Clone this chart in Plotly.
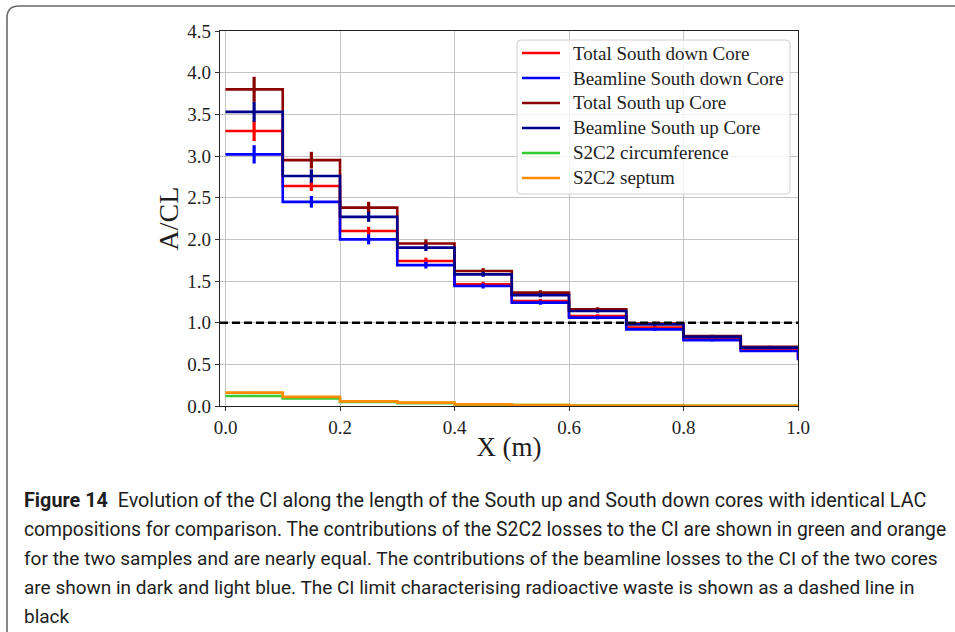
import plotly.graph_objects as go

# Bin edges along the core (m); the last edge carries the closing value of each step line
edges = [0.0, 0.1, 0.2, 0.3, 0.4, 0.5, 0.6, 0.7, 0.8, 0.9, 1.0]
centers = [0.05, 0.15, 0.25, 0.35, 0.45, 0.55, 0.65, 0.75, 0.85, 0.95]

total_down = [3.30, 2.64, 2.10, 1.74, 1.46, 1.26, 1.08, 0.94, 0.81, 0.68, 0.57]
beam_down = [3.02, 2.45, 2.00, 1.69, 1.44, 1.24, 1.06, 0.92, 0.79, 0.66, 0.55]
total_up = [3.80, 2.95, 2.38, 1.95, 1.62, 1.36, 1.16, 0.99, 0.84, 0.71, 0.71]
beam_up = [3.53, 2.76, 2.27, 1.90, 1.58, 1.33, 1.14, 0.98, 0.83, 0.70, 0.70]
s2c2_circ = [0.12, 0.09, 0.050, 0.035, 0.018, 0.010, 0.006, 0.004, 0.003, 0.002, 0.002]
s2c2_sept = [0.16, 0.11, 0.056, 0.040, 0.020, 0.011, 0.006, 0.004, 0.003, 0.002, 0.002]

err_total_down = [0.12, 0.06, 0.05, 0.04, 0.03, 0.025, 0.02, 0.02, 0.015, 0.012]
err_beam_down = [0.11, 0.07, 0.06, 0.04, 0.03, 0.025, 0.02, 0.02, 0.015, 0.012]
err_total_up = [0.15, 0.10, 0.07, 0.05, 0.035, 0.03, 0.025, 0.02, 0.015, 0.012]
err_beam_up = [0.12, 0.08, 0.06, 0.04, 0.03, 0.025, 0.02, 0.02, 0.015, 0.012]
err_circ = [0.008, 0.006, 0.004, 0.003, 0.002, 0.001, 0.001, 0.001, 0.001, 0.001]
err_sept = [0.009, 0.007, 0.004, 0.003, 0.002, 0.001, 0.001, 0.001, 0.001, 0.001]

series_names = ["Total South down Core", "Beamline South down Core", "Total South up Core",
                "Beamline South up Core", "S2C2 circumference", "S2C2 septum"]
series_values = [total_down, beam_down, total_up, beam_up, s2c2_circ, s2c2_sept]
series_errors = [err_total_down, err_beam_down, err_total_up, err_beam_up, err_circ, err_sept]
series_colors = ["#ff0000", "#0000ff", "#8b0000", "#00008b", "#32cd32", "#ff8c00"]

x_ticks = [0.0, 0.2, 0.4, 0.6, 0.8, 1.0]
y_ticks = [0.0, 0.5, 1.0, 1.5, 2.0, 2.5, 3.0, 3.5, 4.0, 4.5]
ci_limit = 1.0

caption_lines = [
    "<b>Figure 14</b>\u00a0\u00a0Evolution of the CI along the length of the South up and South down cores with identical LAC",
    "compositions for comparison. The contributions of the S2C2 losses to the CI are shown in green and orange",
    "for the two samples and are nearly equal. The contributions of the beamline losses to the CI of the two cores",
    "are shown in dark and light blue. The CI limit characterising radioactive waste is shown as a dashed line in",
    "black",
]
# per-line font size so that each justified caption line keeps its width
caption_sizes = [19.8, 19.3, 19.05, 19.0, 19.0]

serif = "Liberation Serif, Times New Roman, serif"
caption_font = "Roboto, Liberation Sans, Arial, sans-serif"
ink = "#1e1e1e"

W, H = 955, 632


def px(x):
    return x / W


def py(y):
    return 1 - y / H


fig = go.Figure()

for name, vals, errs, color in zip(series_names, series_values, series_errors, series_colors):
    fig.add_trace(go.Scatter(
        x=edges, y=vals, mode="lines", name=name, showlegend=False,
        line=dict(color=color, width=2.6, shape="hv"),
    ))
    fig.add_trace(go.Scatter(
        x=centers, y=vals[:-1], mode="markers", showlegend=False,
        marker=dict(size=0.1, color=color, opacity=0),
        error_y=dict(type="data", array=errs, visible=True,
                     color=color, thickness=3.2, width=0),
        hoverinfo="skip",
    ))

# CI limit for radioactive waste
fig.add_hline(y=ci_limit, line=dict(color="black", width=2.5, dash="8px,4px"))

axis_common = dict(
    showline=True, linecolor="#222222", linewidth=1.3, mirror=True,
    ticks="outside", ticklen=4, tickwidth=1, tickcolor="#333333",
    showgrid=True, gridcolor="#c4c4c4", gridwidth=1,
    zeroline=False,
    tickfont=dict(family=serif, size=19, color=ink),
)

fig.update_layout(
    width=W, height=H,
    margin=dict(l=0, r=0, t=0, b=0, autoexpand=False),
    paper_bgcolor="white", plot_bgcolor="white",
    showlegend=False,
    xaxis=dict(
        range=[-0.0096, 1.0], domain=[220 / W, 798 / W],
        tickvals=x_ticks, ticktext=[f"{v:.1f}" for v in x_ticks],
        title=dict(text="X (m)", font=dict(family=serif, size=27, color=ink), standoff=0),
        **axis_common,
    ),
    yaxis=dict(
        range=[0, 4.5], domain=[1 - 406 / H, 1 - 31 / H],
        tickvals=y_ticks, ticktext=[f"{v:.1f}" for v in y_ticks],
        title=dict(text="A/CL", font=dict(family=serif, size=28, color=ink), standoff=0),
        **axis_common,
    ),
)

# Legend box with rounded corners
lx0, lx1, ly0, ly1, rr = 517, 790, 40, 194, 4
legend_path = (
    f"M {px(lx0 + rr)} {py(ly0)} L {px(lx1 - rr)} {py(ly0)} "
    f"Q {px(lx1)} {py(ly0)} {px(lx1)} {py(ly0 + rr)} "
    f"L {px(lx1)} {py(ly1 - rr)} Q {px(lx1)} {py(ly1)} {px(lx1 - rr)} {py(ly1)} "
    f"L {px(lx0 + rr)} {py(ly1)} Q {px(lx0)} {py(ly1)} {px(lx0)} {py(ly1 - rr)} "
    f"L {px(lx0)} {py(ly0 + rr)} Q {px(lx0)} {py(ly0)} {px(lx0 + rr)} {py(ly0)} Z"
)
fig.add_shape(type="path", path=legend_path, xref="paper", yref="paper",
              fillcolor="rgba(255,255,255,0.8)", line=dict(color="#d0d0d0", width=1),
              layer="above")
for i, (name, color) in enumerate(zip(series_names, series_colors)):
    yy = 53 + 25 * i
    fig.add_shape(type="line", xref="paper", yref="paper",
                  x0=px(522), x1=px(560), y0=py(yy), y1=py(yy),
                  line=dict(color=color, width=2.6), layer="above")
    fig.add_annotation(text=name, xref="paper", yref="paper",
                       x=px(571), y=py(yy), xanchor="left", yanchor="middle",
                       showarrow=False, font=dict(family=serif, size=19, color=ink))

# Rounded frame around figure and caption
r = 12
left, top, right, bottom = 7, 6, 962, 640
frame_path = (
    f"M {px(left)} {py(bottom)} L {px(left)} {py(top + r)} "
    f"Q {px(left)} {py(top)} {px(left + r)} {py(top)} "
    f"L {px(right)} {py(top)}"
)
fig.add_shape(type="path", path=frame_path, xref="paper", yref="paper",
              line=dict(color="#6a6a6a", width=1.6))

for i, (line, size) in enumerate(zip(caption_lines, caption_sizes)):
    fig.add_annotation(
        text=line, xref="paper", yref="paper",
        x=px(22), y=py(500 + 29 * i), xanchor="left", yanchor="middle",
        showarrow=False, align="left",
        font=dict(family=caption_font, size=size, color=ink),
    )

fig.write_html(
    "out.html",
    post_script="document.body.style.margin='0';document.body.style.padding='0';",
)
